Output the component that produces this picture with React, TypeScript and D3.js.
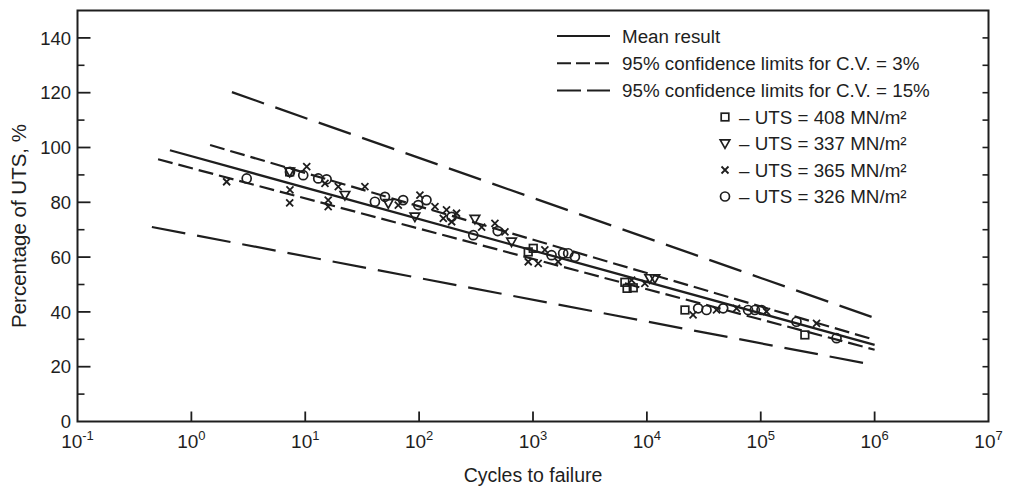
import React from 'react';
import * as d3 from 'd3';

// ---------- data ----------
const xTickExps = [-1, 0, 1, 2, 3, 4, 5, 6, 7];
const yMajorTicks = [0, 20, 40, 60, 80, 100, 120, 140];
const yMinorTicks = [10, 30, 50, 70, 90, 110, 130];
const yRightTicks = [10, 20, 30, 40, 50, 60, 70, 80, 90, 100, 110, 120, 130, 140];

// [cycles, % of UTS]
const meanLine: [number, number][] = [[0.648, 99.0], [1e6, 28.0]];
const upper3Line: [number, number][] = [[1.46, 100.9], [1e6, 29.8]];
const lower3Line: [number, number][] = [[0.51, 95.7], [1e6, 26.2]];
const upper15Line: [number, number][] = [[2.27, 120.2], [1e6, 37.8]];
const lower15Line: [number, number][] = [[0.45, 71.0], [1e6, 20.6]];

const squarePts: [number, number][] = [
  [7.3, 91.1], [908, 61.9], [1005, 63.2], [6410, 50.8], [6700, 48.6], [7590, 48.8],
  [21600, 40.7], [244000, 31.6],
];
const trianglePts: [number, number][] = [
  [7.3, 91.1], [22.3, 82.6], [53.6, 79.6], [91.8, 74.7], [309, 73.9], [648, 65.6],
  [10600, 52.2], [11750, 52.2],
];
const crossPts: [number, number][] = [
  [2.04, 87.5], [7.34, 84.5], [7.3, 79.8], [10.3, 93.0], [14.9, 86.9], [19.5, 85.7],
  [15.9, 80.8], [15.9, 78.4], [33.4, 85.7], [65.6, 79.0], [101.6, 82.6], [137.7, 78.4],
  [174, 77.2], [163, 74.1], [213, 76.0], [193, 72.9], [354, 70.9], [463, 72.3],
  [567, 69.2], [908, 58.3], [1111, 57.7], [1271, 62.6], [1663, 58.3], [7345, 51.6],
  [9600, 50.4], [25450, 38.9], [40900, 40.7], [61300, 41.3], [112400, 40.1], [309000, 35.8],
];
const circlePts: [number, number][] = [
  [3.06, 88.7], [7.34, 91.1], [9.6, 89.9], [13.0, 88.7], [15.4, 88.4], [40.9, 80.2],
  [50.1, 82.0], [72.4, 80.8], [98.2, 79.0], [116, 80.8], [193, 74.7], [299, 68.0],
  [490, 69.5], [1455, 60.7], [1840, 61.4], [2037, 61.4], [2334, 60.1], [28200, 41.3],
  [33400, 40.7], [46800, 41.3], [77400, 40.7], [88700, 40.7], [101600, 40.7],
  [206000, 36.4], [463000, 30.4],
];

const lineLegend = [
  'Mean result',
  '95% confidence limits for C.V. = 3%',
  '95% confidence limits for C.V. = 15%',
];
const markerLegend = ['408', '337', '365', '326'];

// ---------- layout ----------
const W = 1013;
const H = 491;
const X0 = 77.5, X1 = 988.5, Y0 = 421.5, Y1 = 10.5;
const FONT = '"Liberation Sans", Arial, Helvetica, sans-serif';
const INK = '#1e1e1e';

const x = d3.scaleLog().domain([1e-1, 1e7]).range([X0, X1]);
const y = d3.scaleLinear().domain([0, 150]).range([Y0, Y1]);
const line = d3.line<[number, number]>().x(d => x(d[0])).y(d => y(d[1]));

function Square({ cx, cy }: { cx: number; cy: number }) {
  return <rect x={cx - 3.8} y={cy - 3.8} width={7.6} height={7.6} fill="none" stroke={INK} strokeWidth={1.7} />;
}
function Tri({ cx, cy }: { cx: number; cy: number }) {
  return <path d={`M${cx - 4.8},${cy - 3.7}L${cx + 4.8},${cy - 3.7}L${cx},${cy + 4.8}Z`} fill="none" stroke={INK} strokeWidth={1.7} />;
}
function Cross({ cx, cy }: { cx: number; cy: number }) {
  const s = 3.5;
  return <path d={`M${cx - s},${cy - s}L${cx + s},${cy + s}M${cx - s},${cy + s}L${cx + s},${cy - s}`} stroke={INK} strokeWidth={1.8} />;
}
function Circ({ cx, cy }: { cx: number; cy: number }) {
  return <circle cx={cx} cy={cy} r={4.5} fill="none" stroke={INK} strokeWidth={1.7} />;
}
const markerComps = [Square, Tri, Cross, Circ];

export default function App() {
  const dashed = [
    { d: meanLine, dash: undefined, w: 2.3 },
    { d: upper3Line, dash: '15 6', w: 2.2 },
    { d: lower3Line, dash: '15 6', w: 2.2 },
    { d: upper15Line, dash: '34 12', w: 2.2 },
    { d: lower15Line, dash: '34 12', w: 2.2 },
  ];
  const legendDash = [undefined, '14 5', '24 6'];
  return (
    <svg width={W} height={H} style={{ position: 'absolute', left: 0, top: 0, background: '#fff' }}
      fontFamily={FONT}>
      {/* frame */}
      <rect x={X0} y={Y1} width={X1 - X0} height={Y0 - Y1} fill="none" stroke={INK} strokeWidth={2} />
      {/* y ticks left */}
      {yMajorTicks.filter(t => t > 0).map(t => (
        <line key={'ym' + t} x1={X0} x2={X0 + 13} y1={y(t)} y2={y(t)} stroke={INK} strokeWidth={1.8} />
      ))}
      {yMinorTicks.map(t => (
        <line key={'yn' + t} x1={X0} x2={X0 + 7} y1={y(t)} y2={y(t)} stroke={INK} strokeWidth={1.6} />
      ))}
      {yRightTicks.map(t => (
        <line key={'yr' + t} x1={X1} x2={X1 - 6} y1={y(t)} y2={y(t)} stroke={INK} strokeWidth={1.6} />
      ))}
      {yMajorTicks.map(t => (
        <text key={'yl' + t} x={71} y={y(t)} dy="0.36em" textAnchor="end" fontSize={18.5} fill={INK}>{t}</text>
      ))}
      {/* x ticks */}
      {xTickExps.slice(1, -1).map(e => (
        <line key={'xt' + e} x1={x(Math.pow(10, e))} x2={x(Math.pow(10, e))} y1={Y0} y2={Y0 - 10} stroke={INK} strokeWidth={1.8} />
      ))}
      {xTickExps.map(e => (
        <text key={'xl' + e} x={x(Math.pow(10, e))} y={448} textAnchor="middle" fontSize={19} fill={INK}>
          10<tspan dy={-8} fontSize={13}>{e}</tspan>
        </text>
      ))}
      <text x={533} y={482} textAnchor="middle" fontSize={19.5} fill={INK}>Cycles to failure</text>
      <text transform={`translate(26,${(Y0 + Y1) / 2 + 10}) rotate(-90)`} textAnchor="middle" fontSize={20.5} fill={INK}>
        Percentage of UTS, %
      </text>

      {/* lines */}
      {dashed.map((l, i) => (
        <path key={'ln' + i} d={line(l.d) || ''} fill="none" stroke={INK} strokeWidth={l.w}
          strokeDasharray={l.dash} />
      ))}

      {/* points */}
      {squarePts.map((p, i) => <Square key={'s' + i} cx={x(p[0])} cy={y(p[1])} />)}
      {trianglePts.map((p, i) => <Tri key={'t' + i} cx={x(p[0])} cy={y(p[1])} />)}
      {crossPts.map((p, i) => <Cross key={'c' + i} cx={x(p[0])} cy={y(p[1])} />)}
      {circlePts.map((p, i) => <Circ key={'o' + i} cx={x(p[0])} cy={y(p[1])} />)}

      {/* legend */}
      {lineLegend.map((t, i) => (
        <g key={'lg' + i}>
          <line x1={557} x2={610} y1={36 + i * 27.3} y2={36 + i * 27.3} stroke={INK} strokeWidth={2}
            strokeDasharray={legendDash[i]} />
          <text x={622} y={36 + i * 27.3} dy="0.36em" fontSize={18.8} fill={INK}>{t}</text>
        </g>
      ))}
      {markerLegend.map((v, i) => {
        const M = markerComps[i];
        const cy = 117 + i * 26.5;
        return (
          <g key={'mg' + i}>
            <M cx={725} cy={cy} />
            <text x={739} y={cy} dy="0.36em" fontSize={18.8} fill={INK}>– UTS = {v} MN/m²</text>
          </g>
        );
      })}
    </svg>
  );
}
